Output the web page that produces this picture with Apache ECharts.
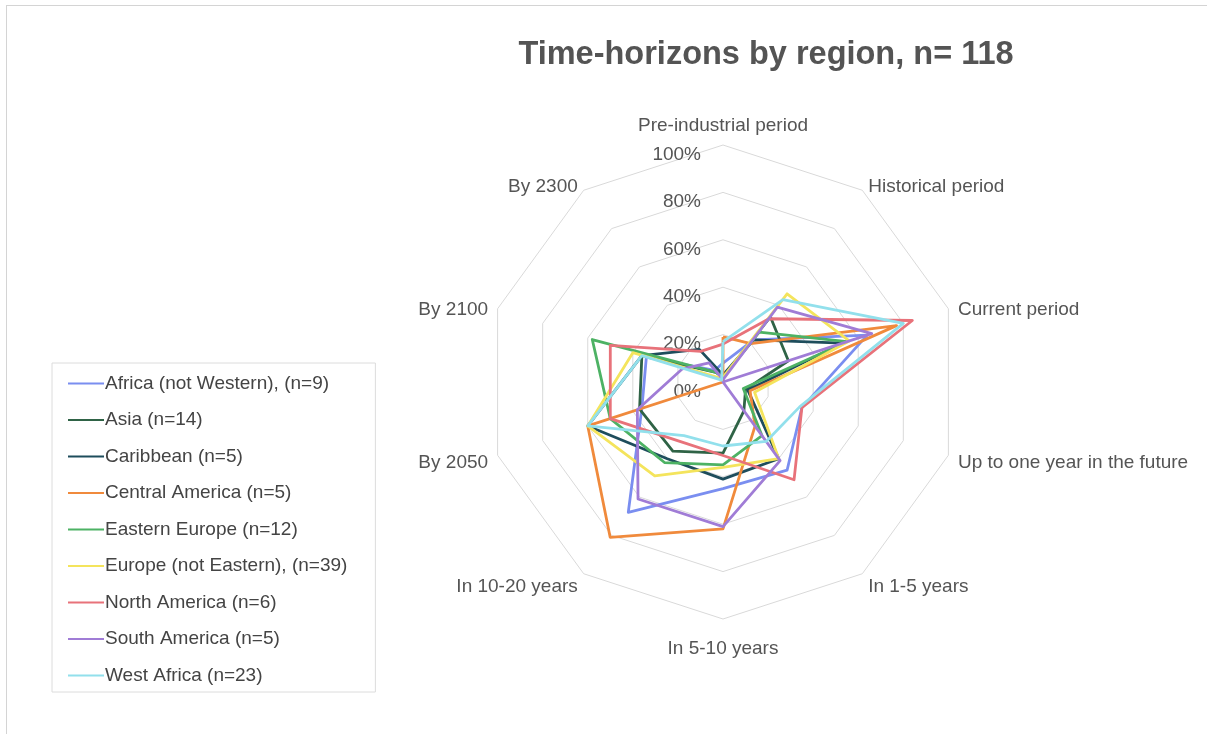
<!DOCTYPE html>
<html><head><meta charset="utf-8">
<script src="https://cdn.jsdelivr.net/npm/echarts@6/dist/echarts.min.js"></script>
<style>
html,body{margin:0;padding:0;background:#fff;overflow:hidden;}
#frame{position:absolute;left:6px;top:5px;width:1230px;height:760px;border:1px solid #d4d4d4;}
#chart{position:absolute;left:0;top:0;width:1207px;height:734px;}
</style>
</head><body><div id="frame"></div><div id="chart"></div>
<script>
// Axes (clockwise from top, as in the reference)
const axisNames = ['Pre-industrial period','Historical period','Current period','Up to one year in the future','In 1-5 years','In 5-10 years','In 10-20 years','By 2050','By 2100','By 2300'];
const ringTicks = [0, 20, 40, 60, 80, 100];
// Series names
const regionNames = ['Africa (not Western), (n=9)','Asia (n=14)','Caribbean (n=5)','Central America (n=5)','Eastern Europe (n=12)','Europe (not Eastern), (n=39)','North America (n=6)','South America (n=5)','West Africa (n=23)'];
// Values in % per axis (same order as axisNames)
const africa        = [8, 22, 64, 35, 46, 45, 68, 36, 34, 6];
const asia          = [2, 34, 29, 10, 15, 30, 36, 37, 36, 5];
const caribbean     = [3, 22, 53, 11, 40, 41, 40, 60, 36, 17];
const centralAm     = [19, 20, 77, 12, 23, 62, 81, 60, 0, 0];
const easternEurope = [2, 26, 55, 9, 28, 35, 42, 50, 58, 5];
const europe        = [2, 46, 56, 14, 40, 36, 49, 60, 40, 2];
const northAm       = [16, 33, 84, 35, 51, 31, 31, 50, 50, 16];
const southAm       = [1, 39, 66, 0, 41, 61, 61, 38, 18, 10];
const westAfrica    = [17, 43, 80, 34, 31, 27, 28, 60, 36, 1];

const seriesValues = [africa, asia, caribbean, centralAm, easternEurope, europe, northAm, southAm, westAfrica];
const colors = ['#7a8ef0','#2f6346','#1e4d5c','#f08a3c','#4db264','#f4e45c','#e8727a','#a07cd6','#92e0ec'];

// ECharts lays indicators counter-clockwise; reorder to get clockwise layout
const order = [0, 9, 8, 7, 6, 5, 4, 3, 2, 1];
const indicator = order.map((i) => {
  const o = { name: axisNames[i], min: ringTicks[0], max: ringTicks[ringTicks.length - 1] };
  if (i === 0) o.axisLabel = { show: true };
  if (i === 5) o.nameGap = 11;
  return o;
});

const chart = echarts.init(document.getElementById('chart'));
chart.setOption({
  animation: false,
  backgroundColor: 'transparent',
  title: {
    text: 'Time-horizons by region, n= 118',
    left: 761, top: 34, textAlign: 'center',
    textStyle: { fontFamily: 'Liberation Sans', fontWeight: 'bold', fontSize: 32.5, color: '#545454' }
  },
  legend: {
    orient: 'vertical', left: 52, top: 363,
    padding: [11, 28, 7, 16], itemGap: 17.5,
    itemWidth: 36, itemHeight: 2, icon: 'rect',
    borderColor: '#dcdcdc', borderWidth: 1,
    data: regionNames,
    textStyle: { fontFamily: 'Liberation Sans', fontSize: 19, color: '#444', padding: [0, 0, 0, -4] }
  },
  radar: {
    center: [723, 382], radius: 237, startAngle: 90,
    shape: 'polygon', splitNumber: ringTicks.length - 1,
    nameGap: 10,
    axisName: {
      fontFamily: 'Liberation Sans', fontSize: 19, color: '#555',
      formatter: (name) => '{t|' + name + '}',
      rich: { t: { fontFamily: 'Liberation Sans', fontSize: 19, color: '#555', padding: [9, 0, 0, 0] } }
    },
    axisLine: { show: false },
    axisTick: { show: false },
    axisLabel: { show: false, formatter: '{value}%', margin: 22, verticalAlign: 'top', fontFamily: 'Liberation Sans', fontSize: 19, color: '#555' },
    splitLine: { lineStyle: { color: '#d9d9d9', width: 1 } },
    splitArea: { show: false },
    indicator: indicator
  },
  series: seriesValues.map((vals, k) => ({
    type: 'radar',
    name: regionNames[k],
    symbol: 'none',
    color: colors[k],
    lineStyle: { width: 2.8, color: colors[k] },
    data: [{ name: regionNames[k], value: order.map((i) => vals[i]) }]
  }))
});
</script>
</body></html>
